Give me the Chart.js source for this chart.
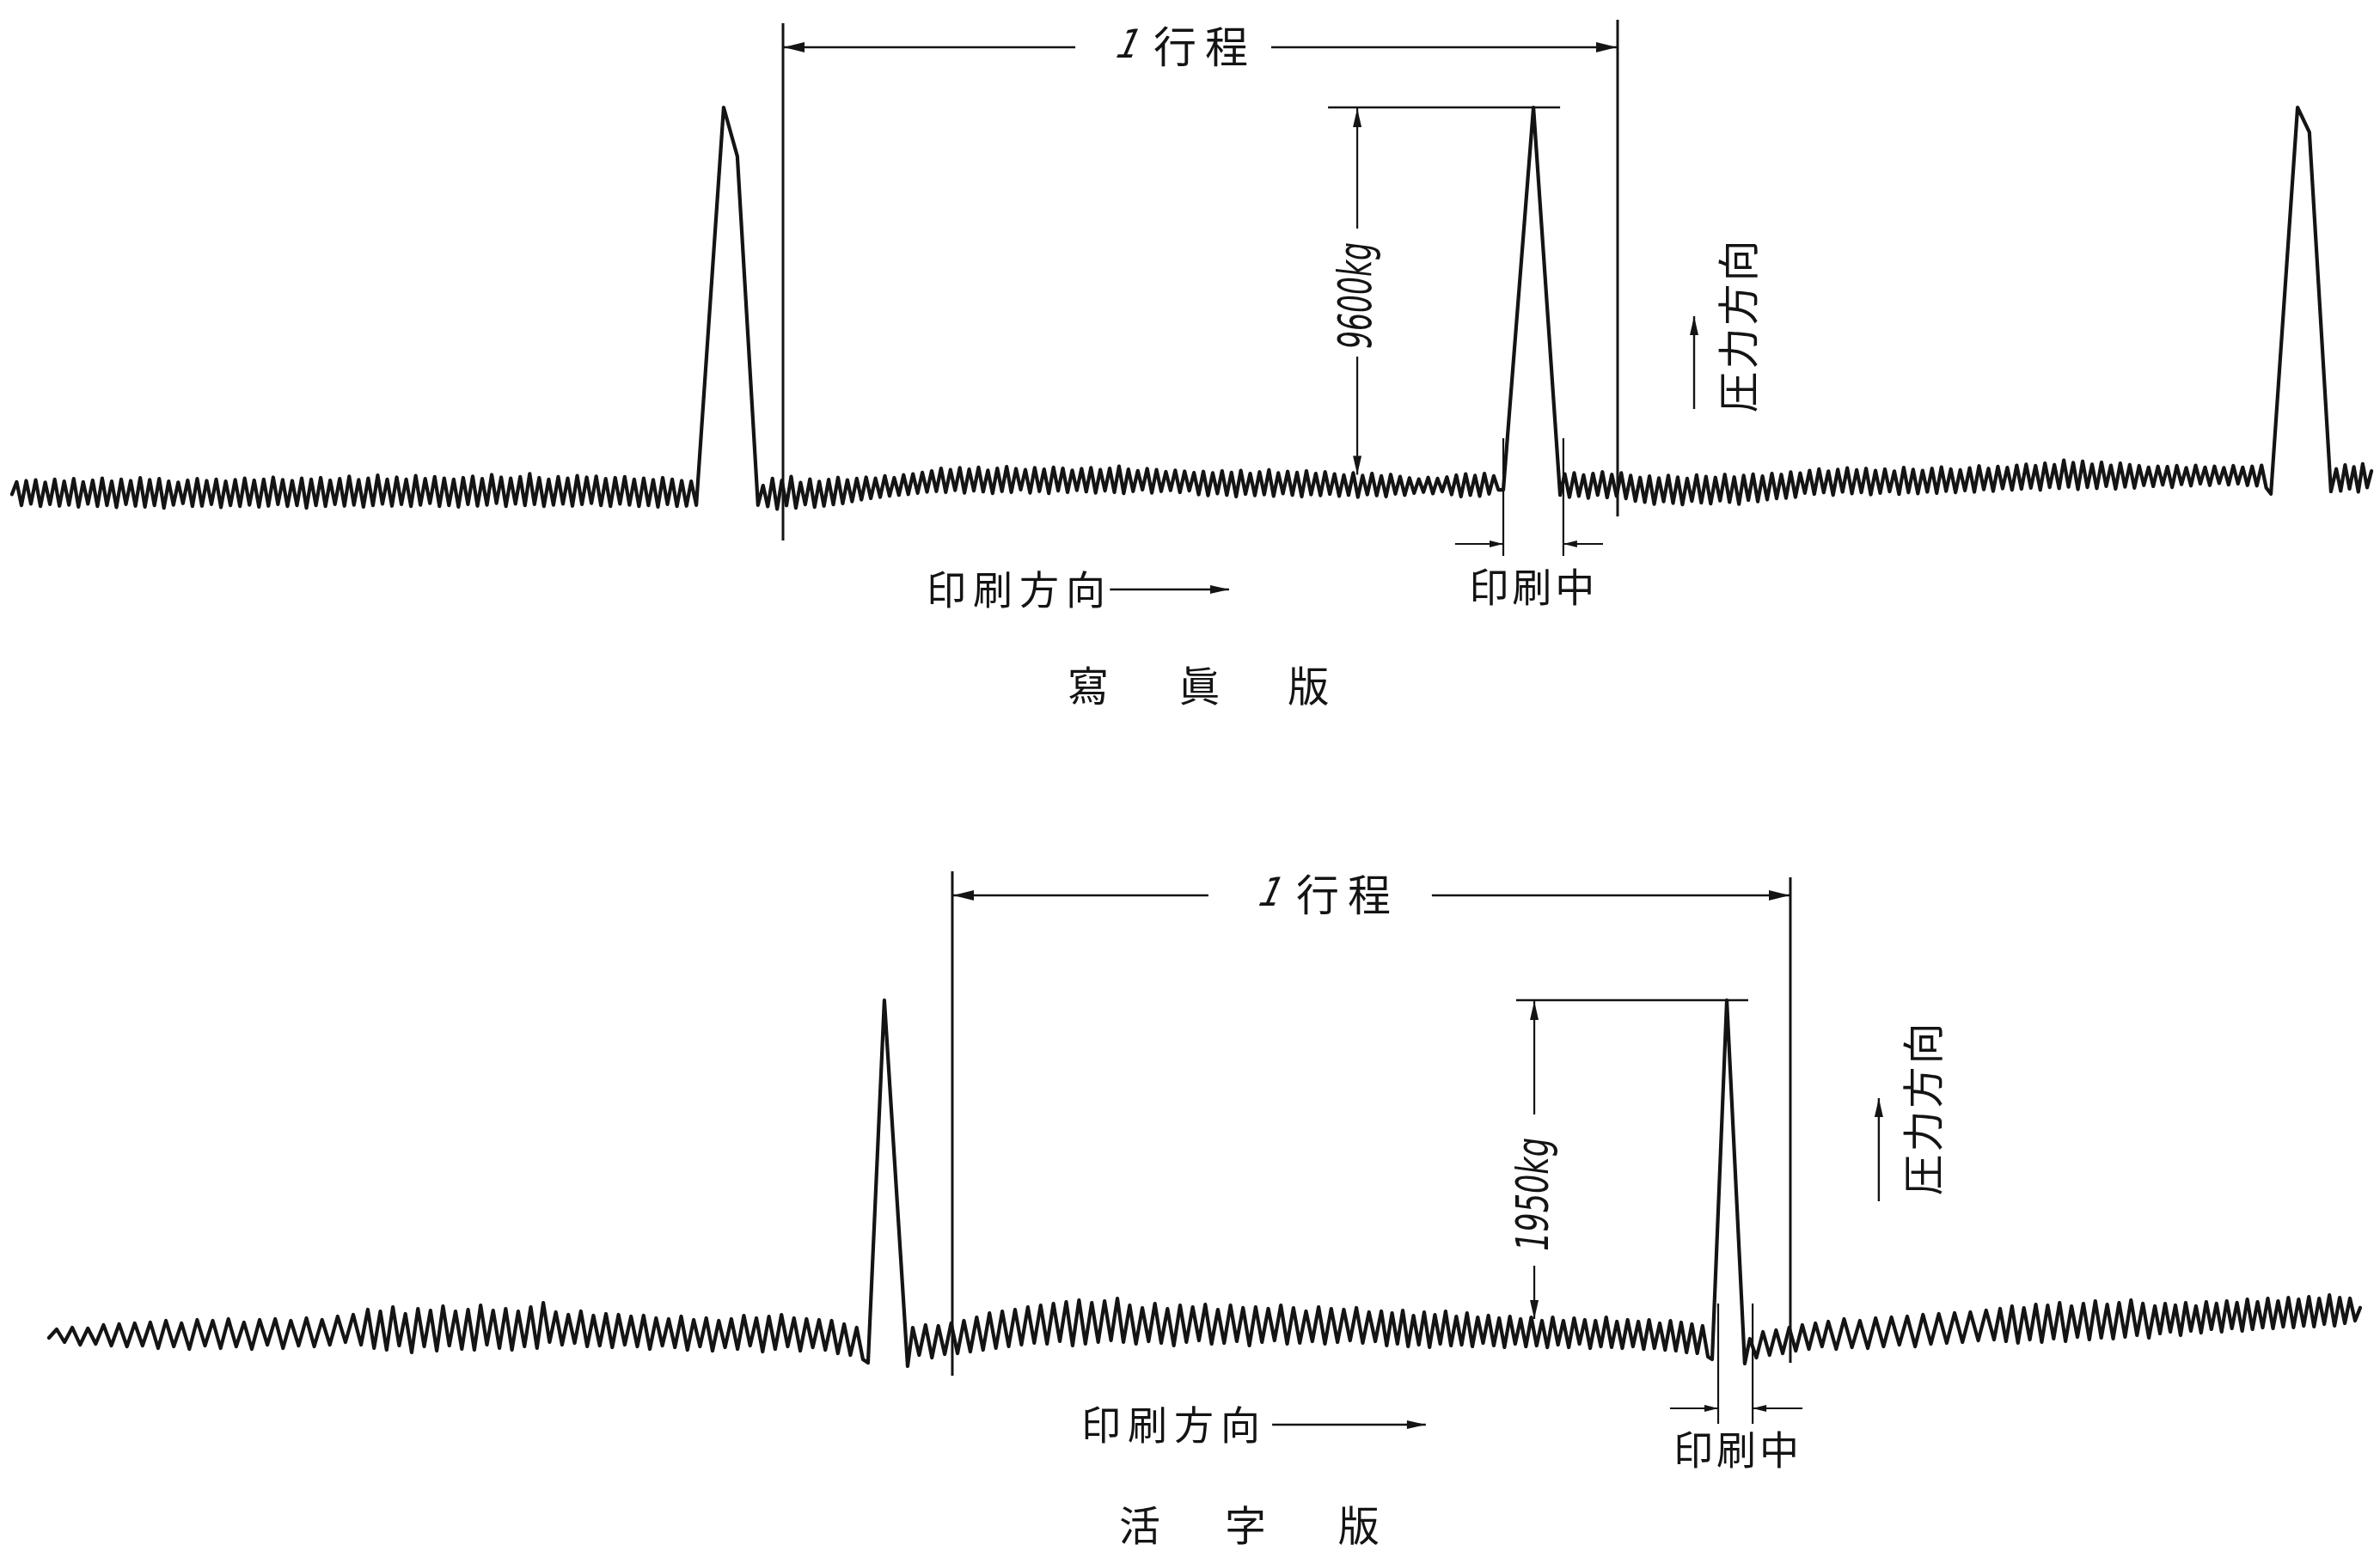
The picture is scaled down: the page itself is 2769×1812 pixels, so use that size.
<!DOCTYPE html>
<html>
<head>
<meta charset="utf-8">
<title>印刷圧力の記録 — 寫眞版・活字版</title>
<script src="https://cdn.jsdelivr.net/npm/chart.js@4.4.1/dist/chart.umd.min.js"></script>
<style>
  html, body { margin: 0; padding: 0; background: #ffffff; }
  body { width: 2769px; height: 1812px; position: relative; overflow: hidden; }
  canvas { position: absolute; left: 0; }
  #photo { top: 0; }
  #type { top: 906px; }
</style>
</head>
<body>
<canvas id="photo" width="2769" height="906"></canvas>
<canvas id="type" width="2769" height="906"></canvas>
<script>
// x: crank angle in degrees, 0° = start of the measured stroke (1行程 = 0…360°)
// y: printing pressure in kg

// ---------- 寫眞版 (photo plate) ----------
const photoPeak1 = [[-37.4, -340], [-25.6, 9600], [-19.7, 8380], [-10.8, -340]];
const photoPeak2 = [[310.7, 40], [323.7, 9600], [335.2, -90]];
const photoPeak3 = [[641.8, -60], [653.3, 9600], [658.4, 8980], [667.7, 0]];

// recorder ripple between impressions, read as successive extremes
const photoRippleA = [
  -70, 240, -345, 270, -310, 290, -370, 230, -320, 305, -360, 255, -335, 320, -385, 240,
  -310, 280, -370, 330, -345, 255, -395, 305, -320, 270, -360, 340, -385, 295, -345, 320,
  -410, 255, -335, 230, -295, 280, -370, 320, -360, 270, -320, 305, -395, 255, -345, 295,
  -370, 330, -335, 280, -385, 305, -360, 355, -320, 295, -370, 270, -345, 330, -410, 305,
  -345, 345, -370, 280, -320, 320, -360, 380, -335, 295, -385, 330, -345, 405, -310, 305,
  -360, 355, -320, 305, -370, 395, -335, 320, -295, 370, -370, 330, -345, 305, -385, 345,
  -320, 380, -360, 320, -335, 420, -295, 355, -370, 330, -310, 370, -345, 445, -320, 345,
  -370, 305, -335, 370, -310, 330, -360, 395, -320, 355, -295, 380, -345, 320, -370, 345,
  -310, 370, -335, 305, -370, 330, -345, 295, -385, 345, -320, 305, -370, 270, -360, 255
];
const photoRippleB = [
  150, -375, 325, -440, 275, -350, 375, -410, 225, -325, 310, -390, 250, -360, 300, -325, 350, -300, 290, -250, 325,
  -205, 355, -170, 330, -140, 390, -110, 345, -90, 415, -70, 440, -40, 475, -10, 515,
  5, 580, -20, 545, 30, 595, -35, 555, 20, 605, -5, 530, -45, 580, 5, 620,
  -20, 570, 45, 545, -35, 595, 5, 555, -45, 605, 20, 580, -20, 530, 30, 570,
  -5, 595, -35, 545, 20, 580, -20, 630, -45, 555, 5, 520, 45, 570, -35, 545,
  5, 495, 30, 530, -20, 505, 20, 470,
  -75, 500, -100, 465, -50, 515, -90, 475, -125, 525, -65, 450, -100, 490, -75, 540,
  -115, 465, -50, 500, -90, 475, -125, 515, -75, 450, -100, 490, -65,
  440, -115, 410, -90, 465, -140, 400, -75, 450, -100, 390, -125, 425, -60, 375, -90,
  340, -40, 310, -15, 350, -50, 325, 0, 360, -75, 410, -125, 440, -90, 400, -115,
  450, -60, 390, 40
];
const photoRippleC = [
  440, -140, 465, -115, 410, -165, 450, -90, 490, -150, 425, -115, 465, -175, 400,
  -240, 350, -265, 385, -315, 335, -250, 400, -290, 360, -325, 325, -240, 410, -280, 375,
  -305, 350, -230, 425, -265, 360, -315, 400, -215, 435, -250, 385, -200, 450, -175, 425,
  -165, 485, -140, 460,
  -40, 525, -65, 560, -25, 510, -90, 550, -10, 590, -50, 540, -25, 575, -75, 525,
  -40, 560, 0, 510, -65, 600, -25, 550, -50, 525, -10, 575, -40, 610, 10, 560,
  -25, 540, 25, 590, -10, 640, 50, 575, 10, 625, 75, 600, 40,
  655, 65, 680, 90, 645, 40, 705, 105, 670, 80, 780, 115, 720, 55, 755, 105,
  680, 80, 730, 130, 655, 65, 705, 115, 670, 90, 645, 155, 605, 130, 630, 170,
  620, 105, 645, 180, 595, 145, 655, 195, 605, 155, 630, 205, 595, 170, 645, 195,
  605, 155, 630, 145, 655, 90
];
const photoRippleD = [565, 15, 665, 65, 615, -10, 690, 100, 515];
const photoRippleSpans = [[-332.6, -39.6], [-8.6, 308.6], [337.2, 639.8], [670.0, 685.2]];

// ---------- 活字版 (type form) ----------
const typePeak1 = [[-36.2, -160], [-29.2, 1950], [-19.2, -180]];
const typePeak2 = [[326.4, -140], [332.7, 1950], [340.4, -165]];

const typeRippleA1 = [
  -15, 35, -40, 45, -55, 40, -50, 60, -60, 65, -65, 70, -60, 75, -75, 85, -65, 70, -80, 90,
  -60, 85, -75, 95, -65, 75, -80, 90, -55, 95, -75, 85, -60, 100, -65, 90, -55, 110, -40, 120, -55
];
const typeRippleA2 = [
  150, -75, 140, -85, 165, -60, 125, -100, 155, -65, 145, -90, 170, -60, 140, -80,
  150, -85, 175, -55, 145, -75, 155, -85, 140, -65, 165, -75, 190,
  -40, 135, -55, 120, -45, 140, -65, 115, -60, 125, -70, 120, -55, 110, -65, 115, -80, 100, -60, 95,
  -70, 110, -85, 90, -65, 100, -90, 85, -70, 95, -80, 115, -60, 100, -95, 110, -80, 120, -65, 100,
  -90, 95, -70, 90, -85, 85, -105, 65, -115, 45, -140
];
const typeRippleB1 = [
  45, -115, 60, -130, 55, -110, 70, -105, 85, -95, 105, -85, 130, -75, 140, -65, 150, -55, 165, -45,
  175, -50, 185, -35, 195, -60, 205, -50, 190, -40, 200, -30, 215
];
const typeRippleB2 = [
  -40, 175, -50, 160, -35, 185, -45, 155, -60, 175, -40, 165, -30, 180, -50, 150, -45, 175, -35, 160,
  -60, 165, -40, 155, -30, 175, -50, 160, -45, 140, -35, 165, -50, 155, -40, 150, -30, 160, -45, 135, -35
];
const typeRippleB3 = [
  140, -60, 130, -50, 145, -65, 115, -55, 135, -70, 120, -50, 140, -60, 110, -55,
  130, -65, 105, -45, 115, -60, 100, -70, 110, -50, 95, -65, 105, -60, 85, -70,
  105, -55, 85, -70, 100, -50, 90, -75, 85, -65, 105, -70, 80, -75, 90, -65,
  80, -80, 90, -75, 70, -85, 85, -90, 75, -100, 65, -105, 55, -125
];
const typeRippleC1 = [-20, -130, 20, -115, 30, -105, 45, -90, 60, -80, 70, -65];
const typeRippleC2 = [
  80, -80, 95, -70, 85, -75, 100, -65, 105, -55, 110, -65, 120, -50, 125, -45, 130, -40, 135, -30, 145, -25
];
const typeRippleC3 = [
  155, -35, 170, -45, 160, -25, 180, -40, 175, -20, 190, -35, 170, -10, 185, -25, 200, -15, 180, -20, 190, -10, 205, 0, 185, -15
];
const typeRippleC4 = [
  170, 10, 185, 20, 175, 0, 190, 25, 170, 15, 195, 35, 185, 20, 200, 40, 190, 25, 210, 35,
  195, 45, 215, 40, 200, 50, 220, 45, 210, 55, 225, 50, 215, 65, 235, 55, 220, 70, 215, 85, 160
];
const typeRippleSpans = [
  [-388.1, -254.0], [-251.1, -38.4], [-17.0, 70.9], [73.5, 181.7], [184.3, 324.6],
  [342.6, 373.6], [376.3, 447.5], [450.1, 514.0], [516.6, 604.8]
];

// ---------- labels ----------
const photoCaption = ['寫', '眞', '版'];
const typeCaption = ['活', '字', '版'];
const photoPeakLabel = '9600kg';
const typePeakLabel = '1950kg';

// ---------- building the traces ----------
function ripple(span, kg) {
  const n = kg.length;
  return kg.map((v, i) => ({ x: span[0] + (span[1] - span[0]) * i / (n - 1), y: v }));
}
const vertices = pts => pts.map(p => ({ x: p[0], y: p[1] }));

const photoTrace = [
  ...ripple(photoRippleSpans[0], photoRippleA),
  ...vertices(photoPeak1),
  ...ripple(photoRippleSpans[1], photoRippleB),
  ...vertices(photoPeak2),
  ...ripple(photoRippleSpans[2], photoRippleC),
  ...vertices(photoPeak3),
  ...ripple(photoRippleSpans[3], photoRippleD)
];

const typeTrace = [
  ...ripple(typeRippleSpans[0], typeRippleA1),
  ...ripple(typeRippleSpans[1], typeRippleA2),
  ...vertices(typePeak1),
  ...ripple(typeRippleSpans[2], typeRippleB1),
  ...ripple(typeRippleSpans[3], typeRippleB2),
  ...ripple(typeRippleSpans[4], typeRippleB3),
  ...vertices(typePeak2),
  ...ripple(typeRippleSpans[5], typeRippleC1),
  ...ripple(typeRippleSpans[6], typeRippleC2),
  ...ripple(typeRippleSpans[7], typeRippleC3),
  ...ripple(typeRippleSpans[8], typeRippleC4)
];

// ---------- drawing helpers ----------
const INK = '#141414';
const CJK = '"Noto Sans CJK JP", "Noto Sans CJK SC", sans-serif';
const NUM = '"Liberation Sans Narrow", "DejaVu Sans Condensed", "Liberation Sans", sans-serif';

function seg(ctx, x1, y1, x2, y2, w) {
  ctx.lineWidth = w;
  ctx.beginPath(); ctx.moveTo(x1, y1); ctx.lineTo(x2, y2); ctx.stroke();
}
function head(ctx, x, y, dx, dy, len = 20, half = 5) {
  const px = -dy, py = dx;
  ctx.beginPath();
  ctx.moveTo(x, y);
  ctx.lineTo(x - dx * len + px * half, y - dy * len + py * half);
  ctx.lineTo(x - dx * len - px * half, y - dy * len - py * half);
  ctx.closePath(); ctx.fill();
}
function spread(ctx, chars, cx, cy, pitch, size, angle = 0) {
  ctx.save();
  ctx.translate(cx, cy); ctx.rotate(angle);
  ctx.font = `400 ${size}px ${CJK}`;
  ctx.textAlign = 'center'; ctx.textBaseline = 'middle';
  const n = chars.length;
  chars.forEach((c, i) => ctx.fillText(c, (i - (n - 1) / 2) * pitch, 0));
  ctx.restore();
}
function fitText(ctx, str, cx, cy, len, font, angle) {
  ctx.save();
  ctx.translate(cx, cy); ctx.rotate(angle);
  ctx.font = font;
  const w = ctx.measureText(str).width;
  ctx.scale(len / w, 1);
  ctx.textAlign = 'center'; ctx.textBaseline = 'middle';
  ctx.fillText(str, 0, 0);
  ctx.restore();
}

// stroke bracket, peak dimension, impression zone and direction notes
const notesPlugin = {
  id: 'pressNotes',
  afterDatasetsDraw(chart, args, n) {
    const { ctx } = chart;
    const X = v => chart.scales.x.getPixelForValue(v);
    const Y = v => chart.scales.y.getPixelForValue(v);
    ctx.save();
    ctx.strokeStyle = INK; ctx.fillStyle = INK; ctx.lineCap = 'butt';

    // 1行程
    seg(ctx, X(0), Y(n.strokeLeftSpan[0]), X(0), Y(n.strokeLeftSpan[1]), 3);
    seg(ctx, X(360), Y(n.strokeRightSpan[0]), X(360), Y(n.strokeRightSpan[1]), 3);
    const by = Y(n.strokeKg);
    seg(ctx, X(0), by, X(n.strokeGap[0]), by, 2.6);
    seg(ctx, X(n.strokeGap[1]), by, X(360), by, 2.6);
    head(ctx, X(0) + 1, by, -1, 0, 24, 6);
    head(ctx, X(360) - 1, by, 1, 0, 24, 6);
    const lx = X(n.strokeLabelX);
    ctx.save();
    ctx.font = `italic 46px ${NUM}`;
    ctx.textAlign = 'center'; ctx.textBaseline = 'middle';
    ctx.translate(lx - 64, by);
    ctx.transform(1, 0, -0.25, 1, 0, 0);
    ctx.fillText('1', 0, 0);
    ctx.restore();
    spread(ctx, ['行', '程'], lx + 20, by - 1, 60, 50);

    // peak height dimension
    const py = Y(n.peakKg);
    seg(ctx, X(n.dimFrom), py, X(n.dimTo), py, 2.4);
    const dx = X(n.dimX);
    seg(ctx, dx, py, dx, Y(n.dimGap[0]), 2.2);
    seg(ctx, dx, Y(n.dimGap[1]), dx, Y(n.dimBottomKg), 2.2);
    head(ctx, dx, py + 1, 0, -1, 22, 5);
    head(ctx, dx, Y(n.dimBottomKg), 0, 1, 22, 5);
    fitText(ctx, n.label, dx + 2, Y(n.dimLabelKg), n.dimLabelLen,
            `italic ${n.dimFont}px ${NUM}`, -Math.PI / 2);

    // 印刷中
    n.pressLines.forEach(x => seg(ctx, X(x), Y(n.pressSpan[0]), X(x), Y(n.pressSpan[1]), 2.2));
    const ay = Y(n.pressArrowKg);
    seg(ctx, X(n.pressTails[0]), ay, X(n.pressLines[0]), ay, 2);
    head(ctx, X(n.pressLines[0]), ay, 1, 0, 16, 4);
    seg(ctx, X(n.pressTails[1]), ay, X(n.pressLines[1]), ay, 2);
    head(ctx, X(n.pressLines[1]), ay, -1, 0, 16, 4);
    spread(ctx, ['印', '刷', '中'], X(n.pressLabelX), Y(n.pressLabelKg), 50, 46);

    // 印刷方向 →
    const dy = Y(n.dirKg);
    spread(ctx, ['印', '刷', '方', '向'], X(n.dirRight) - 104, dy, 54, 46);
    seg(ctx, X(n.dirArrow[0]), dy, X(n.dirArrow[1]), dy, 2.4);
    head(ctx, X(n.dirArrow[1]), dy, 1, 0, 22, 5);

    // ↑ 圧力方向
    spread(ctx, ['圧', '力', '方', '向'], X(n.forceX), Y(n.forceKg), 51, 48, -Math.PI / 2);
    const fx = X(n.forceArrowX);
    seg(ctx, fx, Y(n.forceArrowKg[0]), fx, Y(n.forceArrowKg[1]), 2.4);
    head(ctx, fx, Y(n.forceArrowKg[1]), 0, -1, 22, 5);

    // caption
    n.caption.forEach((c, i) => spread(ctx, [c], X(n.captionX[i]), Y(n.captionKg), 0, 48));
    ctx.restore();
  }
};

const photoNotes = {
  peakKg: 9600, label: photoPeakLabel,
  strokeKg: 11104, strokeLeftSpan: [11705, -1224], strokeRightSpan: [11791, -623],
  strokeGap: [126.1, 210.6], strokeLabelX: 172.8,
  dimFrom: 235.1, dimTo: 335.2, dimX: 247.7, dimBottomKg: 420, dimGap: [6572, 3372],
  dimLabelKg: 4897, dimLabelLen: 124, dimFont: 54,
  pressLines: [310.7, 336.6], pressSpan: [1332, -1611], pressArrowKg: -1310,
  pressTails: [289.9, 353.7], pressLabelX: 323.0, pressLabelKg: -2363,
  dirRight: 139.0, dirKg: -2448, dirArrow: [141.0, 192.4],
  forceX: 411.9, forceKg: 4124, forceArrowX: 393.0, forceArrowKg: [2062, 4381],
  caption: photoCaption, captionX: [131.6, 179.5, 226.6], captionKg: -4854
};

const typeNotes = {
  peakKg: 1950, label: typePeakLabel,
  strokeKg: 2560, strokeLeftSpan: [2700, -235], strokeRightSpan: [2665, -160],
  strokeGap: [110.0, 206.0], strokeLabelX: 160.6,
  dimFrom: 242.2, dimTo: 341.9, dimX: 250.0, dimBottomKg: 95, dimGap: [1285, 405],
  dimLabelKg: 820, dimLabelLen: 132, dimFont: 52,
  pressLines: [329.0, 343.8], pressSpan: [185, -515], pressArrowKg: -425,
  pressTails: [308.3, 365.2], pressLabelX: 336.7, pressLabelKg: -665,
  dirRight: 132.2, dirKg: -520, dirArrow: [137.4, 203.4],
  forceX: 416.9, forceKg: 1315, forceArrowX: 398.0, forceArrowKg: [780, 1380],
  caption: typeCaption, captionX: [80.5, 125.9, 174.6], captionKg: -1105
};

function makeChart(id, trace, xr, yr, notes) {
  return new Chart(document.getElementById(id), {
    type: 'scatter',
    data: {
      datasets: [{
        data: trace,
        showLine: true,
        borderColor: INK,
        borderWidth: 4.2,
        borderJoinStyle: 'round',
        borderCapStyle: 'round',
        pointRadius: 0,
        tension: 0
      }]
    },
    options: {
      responsive: false,
      animation: false,
      devicePixelRatio: 1,
      events: [],
      layout: { padding: 0 },
      scales: {
        x: { type: 'linear', display: false, min: xr[0], max: xr[1] },
        y: { type: 'linear', display: false, min: yr[0], max: yr[1] }
      },
      plugins: {
        legend: { display: false },
        tooltip: { enabled: false },
        pressNotes: notes
      }
    },
    plugins: [notesPlugin]
  });
}

makeChart('photo', photoTrace, [-337.75, 688.86], [-7173, 12285], photoNotes);
makeChart('type', typeTrace, [-409.1, 613.3], [-1290, 3240], typeNotes);
</script>
</body>
</html>
